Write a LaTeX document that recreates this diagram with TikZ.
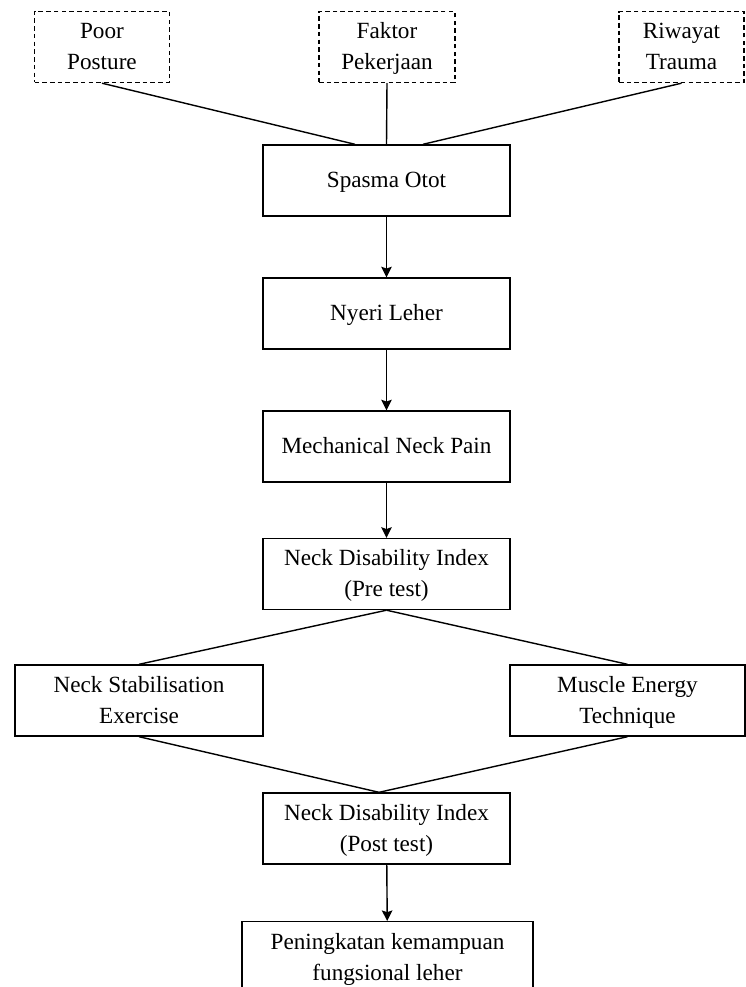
\documentclass[tikz,border=0pt]{standalone}
\usepackage{fontspec}
\setmainfont{Liberation Serif}
\usepackage{tikz}
\usetikzlibrary{shapes}
\usetikzlibrary{arrows.meta}
\tikzset{
	box node/.style={rectangle,draw,line width=0.8pt,align=center,
		minimum width=4.94cm,minimum height=1.42cm,inner sep=2pt,text depth=0.08em,
		font=\fontsize{13.2}{17.6}\selectfont},
	dash node/.style={box node,dash pattern=on 2.6pt off 1.8pt,minimum width=2.7cm},
	link/.style={line width=0.8pt}
}

\begin{document}
\begin{tikzpicture}[->,>={Stealth[length=6pt,width=6pt,inset=1pt]},x=0.02cm,y=-0.02cm]
	    \useasboundingbox (0,0) rectangle (746,987);
	    % faktor penyebab
	    \node [dash node] (poor) at (102,47) {Poor\\Posture};
	    \node [dash node,minimum width=2.72cm] (faktor) at (387,47) {Faktor\\Pekerjaan};
	    \node [dash node,minimum width=2.5cm] (riwayat) at (681.5,47) {Riwayat\\Trauma};
	    % alur utama
	    \node [box node] (spasma) at (386.5,180.5) {Spasma Otot};
	    \node [box node] (nyeri) at (386.5,313.5) {Nyeri Leher};
	    \node [box node] (mech) at (386.5,446.5) {Mechanical Neck Pain};
	    \node [box node] (pre) at (386.5,574) {Neck Disability Index\\(Pre test)};
	    \node [box node,minimum width=4.96cm] (stab) at (139,700.5) {Neck Stabilisation\\Exercise};
	    \node [box node,minimum width=4.7cm] (muscle) at (627.5,700.5) {Muscle Energy\\Technique};
	    \node [box node] (post) at (386.5,828.5) {Neck Disability Index\\(Post test)};
	    \node [box node,minimum width=5.82cm,anchor=north] (pening) at (387.5,921) {Peningkatan kemampuan\\fungsional leher};
	    \coordinate (temu) at ([xshift=-0.15cm]post.north);
	    % garis
	    \draw [link,-] (poor.south) -- ([xshift=-0.63cm]spasma.north);
	    \draw [link,-] (faktor.south) -- (spasma.north);
	    \draw [link,-] (riwayat.south) -- ([xshift=0.73cm]spasma.north);
	    \draw [link] (spasma) -- (nyeri);
	    \draw [link] (nyeri) -- (mech);
	    \draw [link] (mech) -- (pre);
	    \draw [link,-] (pre.south) -- (stab.north);
	    \draw [link,-] (pre.south) -- (muscle.north);
	    \draw [link,-] (stab.south) -- (temu);
	    \draw [link,-] (muscle.south) -- (temu);
	    \draw [link] (post) -- (pening);
	  \end{tikzpicture}
\end{document}
